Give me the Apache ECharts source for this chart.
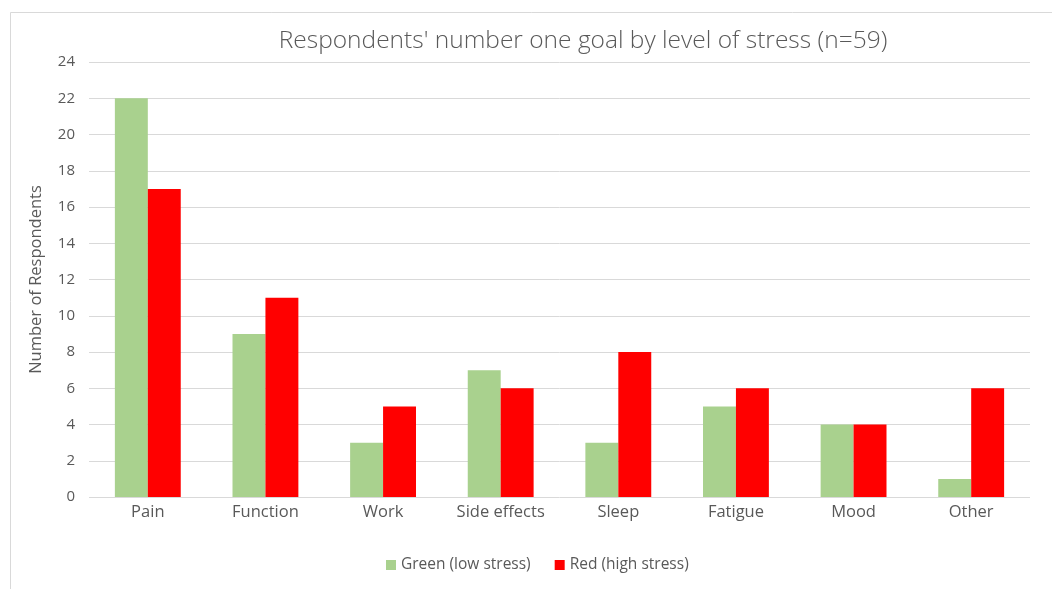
<!DOCTYPE html>
<html>
<head>
<meta charset="utf-8">
<script src="https://cdn.jsdelivr.net/npm/echarts@6/dist/echarts.min.js"></script>
<style>
  html, body { margin: 0; padding: 0; background: #fff; }
  #main { width: 1052px; height: 589px; }
</style>
</head>
<body>
<div id="main"></div>
<script>
// categories and values
const categories = ['Pain', 'Function', 'Work', 'Side effects', 'Sleep', 'Fatigue', 'Mood', 'Other'];
const lowStress = [22, 9, 3, 7, 3, 5, 4, 1];
const highStress = [17, 11, 5, 6, 8, 6, 4, 6];
const seriesNames = ['Green (low stress)', 'Red (high stress)'];

const chart = echarts.init(document.getElementById('main'));
const textColor = '#595959';

const option = {
  animation: false,
  backgroundColor: '#fff',
  title: {
    text: "Respondents' number one goal by level of stress (n=59)",
    left: 578,
    top: 24,
    textAlign: 'center',
    textStyle: {
      fontFamily: 'Open Sans',
      fontWeight: 300,
      fontSize: 24.5,
      color: textColor
    }
  },
  // outer frame of the chart
  graphic: [{
    type: 'rect',
    shape: { x: 10.5, y: 12.5, width: 1100, height: 700 },
    style: { fill: 'none', stroke: '#d9d9d9', lineWidth: 1 },
    silent: true
  }],
  legend: {
    data: seriesNames,
    bottom: 11,
    left: 381,
    itemWidth: 10,
    itemHeight: 10,
    itemGap: 24,
    icon: 'rect',
    textStyle: { fontFamily: 'Open Sans', fontSize: 15.5, color: textColor }
  },
  grid: {
    left: 89,
    right: 22,
    top: 62,
    bottom: 92
  },
  xAxis: {
    type: 'category',
    data: categories,
    axisLine: { show: false },
    axisTick: { show: false },
    axisLabel: { interval: 0, fontFamily: 'Open Sans', fontSize: 16.5, color: textColor, margin: 7 }
  },
  yAxis: {
    type: 'value',
    min: 0,
    max: 24,
    interval: 2,
    name: 'Number of Respondents',
    nameLocation: 'middle',
    nameGap: 44,
    nameTextStyle: { fontFamily: 'Open Sans', fontSize: 16.5, color: textColor },
    axisLine: { show: false },
    axisTick: { show: false },
    axisLabel: { fontFamily: 'Open Sans', fontSize: 15, color: textColor, margin: 14 },
    splitLine: { lineStyle: { color: '#d9d9d9', width: 1 } }
  },
  series: [
    {
      name: seriesNames[0],
      type: 'bar',
      data: lowStress,
      itemStyle: { color: '#a9d18e' },
      barGap: '0%',
      barCategoryGap: '44%'
    },
    {
      name: seriesNames[1],
      type: 'bar',
      data: highStress,
      itemStyle: { color: '#ff0000' },
      barGap: '0%',
      barCategoryGap: '44%'
    }
  ]
};

chart.setOption(option);
</script>
</body>
</html>
